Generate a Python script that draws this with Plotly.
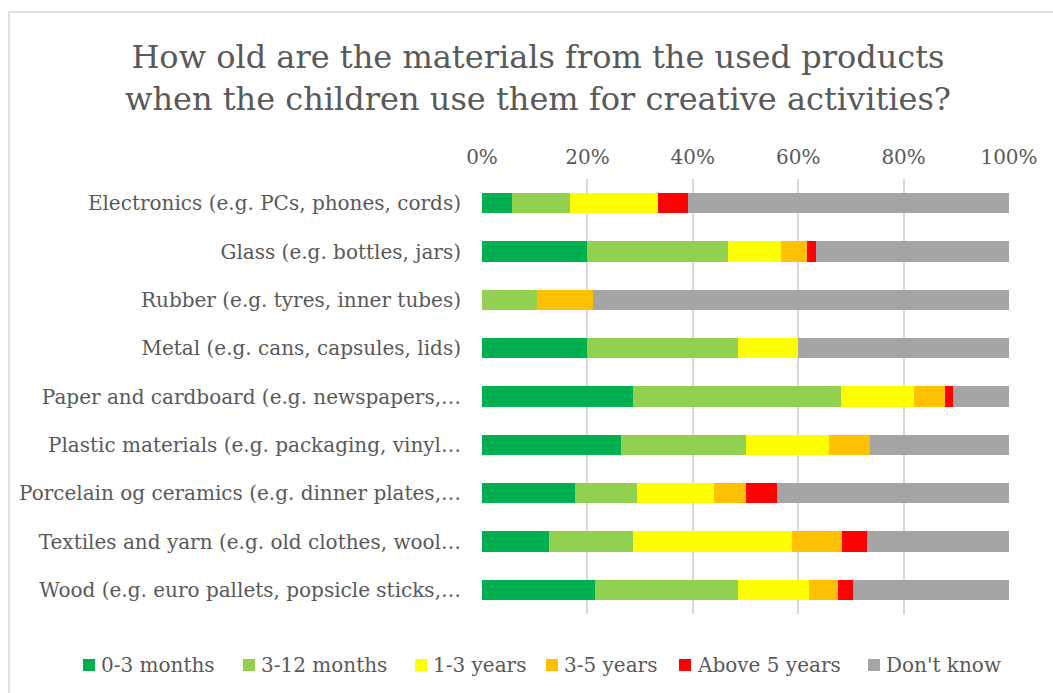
import plotly.graph_objects as go

categories = [
    "Electronics (e.g. PCs, phones, cords)",
    "Glass (e.g. bottles, jars)",
    "Rubber (e.g. tyres, inner tubes)",
    "Metal (e.g. cans, capsules, lids)",
    "Paper and cardboard (e.g. newspapers,…",
    "Plastic materials (e.g. packaging, vinyl…",
    "Porcelain og ceramics (e.g. dinner plates,…",
    "Textiles and yarn (e.g. old clothes, wool…",
    "Wood (e.g. euro pallets, popsicle sticks,…",
]

months_0_3 = [0.056, 0.200, 0.000, 0.200, 0.287, 0.263, 0.176, 0.127, 0.215]
months_3_12 = [0.111, 0.267, 0.105, 0.286, 0.395, 0.237, 0.118, 0.159, 0.271]
years_1_3 = [0.167, 0.100, 0.000, 0.114, 0.137, 0.158, 0.147, 0.302, 0.135]
years_3_5 = [0.000, 0.050, 0.105, 0.000, 0.060, 0.079, 0.059, 0.095, 0.055]
above_5 = [0.056, 0.017, 0.000, 0.000, 0.015, 0.000, 0.059, 0.048, 0.028]
dont_know = [0.611, 0.367, 0.790, 0.400, 0.106, 0.263, 0.441, 0.270, 0.296]

series = [
    ("0-3 months", months_0_3, "#00B050"),
    ("3-12 months", months_3_12, "#92D050"),
    ("1-3 years", years_1_3, "#FFFF00"),
    ("3-5 years", years_3_5, "#FFC000"),
    ("Above 5 years", above_5, "#FF0000"),
    ("Don't know", dont_know, "#A5A5A5"),
]

FONT = "DejaVu Serif"
TXT = "#595959"

W, H = 1053, 693
L, R, T, B = 482, 1009, 179, 614


def px(x):
    return (x - L) / (R - L)


def py(y):
    return (B - y) / (B - T)


fig = go.Figure()
for name, vals, color in series:
    fig.add_trace(go.Bar(
        y=categories, x=vals, name=name, orientation="h",
        marker=dict(color=color, line=dict(width=0)),
    ))

fig.update_layout(
    width=W, height=H,
    barmode="stack", bargap=0.58,
    plot_bgcolor="white", paper_bgcolor="white",
    margin=dict(l=L, r=W - R, t=T, b=H - B),
    font=dict(family=FONT, color=TXT, size=20),
    title=dict(
        text="How old are the materials from the used products<br>when the children use them for creative activities?",
        x=538 / W, xanchor="center", y=1 - 68 / H, yanchor="middle",
        font=dict(size=32, family=FONT, color=TXT),
    ),
    xaxis=dict(
        side="top", range=[0, 1], tickformat=".0%", dtick=0.2,
        showgrid=True, gridcolor="#D9D9D9", gridwidth=1.5,
        zeroline=False, showline=False, ticks="",
        tickfont=dict(size=20), ticklabelstandoff=10,
        fixedrange=True,
    ),
    yaxis=dict(
        autorange="reversed", showgrid=False, showline=False, ticks="",
        tickfont=dict(size=20), ticklabelstandoff=20, fixedrange=True,
    ),
    showlegend=False,
)

# legend drawn as a row of swatches with labels underneath the plot
legend_x = [83, 243, 415, 546, 679, 868]
legend_y = 665
for (name, _, color), x0 in zip(series, legend_x):
    fig.add_shape(
        type="rect", xref="paper", yref="paper",
        x0=px(x0), x1=px(x0 + 12), y0=py(legend_y + 6), y1=py(legend_y - 6),
        line=dict(width=0), fillcolor=color,
    )
    fig.add_annotation(
        text=name, xref="paper", yref="paper", x=px(x0 + 16), y=py(legend_y),
        xanchor="left", yanchor="middle", showarrow=False,
        font=dict(size=20, family=FONT, color=TXT),
    )

# outer frame around the chart
fig.add_shape(
    type="rect", xref="paper", yref="paper",
    x0=px(9), x1=px(1062), y0=py(702), y1=py(12),
    line=dict(color="#D9D9D9", width=1.5), fillcolor="rgba(0,0,0,0)", layer="below",
)

fig.write_html("out.html")
